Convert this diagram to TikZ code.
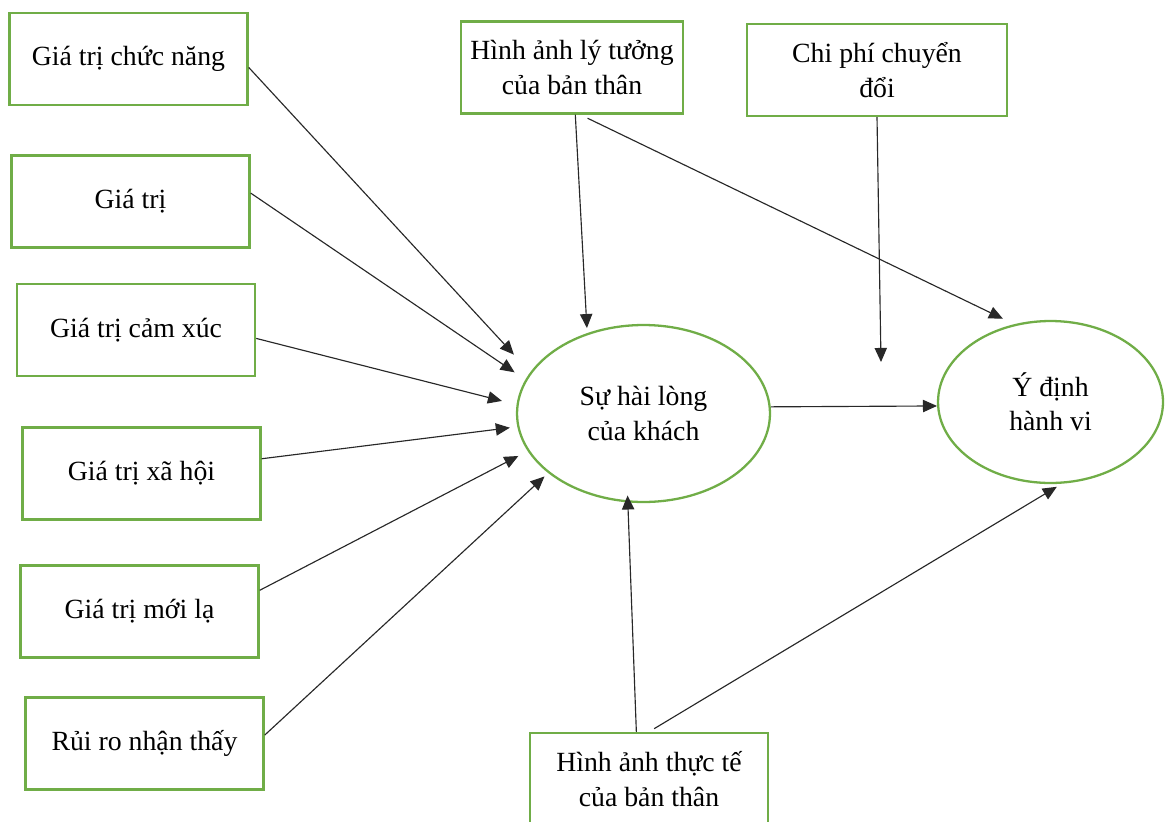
\documentclass[tikz,border=0pt]{standalone}
\usepackage{fontspec}
\setmainfont{Liberation Serif}
\usetikzlibrary{shapes.geometric}
\usetikzlibrary{arrows.meta}
\definecolor{vien}{RGB}{112,173,71}
\definecolor{muiten}{RGB}{40,40,40}

\begin{document}
\begin{tikzpicture}[x=0.02cm, y=-0.02cm, font=\fontsize{15.8}{19.5}\selectfont,
	hop/.style={draw=vien, line width=1.4pt, minimum width=4.76cm, minimum height=1.84cm, inner sep=0pt, align=center},
	vong/.style={draw=vien, line width=1.3pt, ellipse, inner sep=0pt, align=center},
	tac/.style={muiten, line width=0.65pt, -{Triangle[length=8pt,width=7pt]}},
]

\useasboundingbox (0,0) rectangle (1165,821);
\clip (0,0) rectangle (1165,821);

% Bien doc lap
\node[hop] (gtcn) at (128.5,59) {Giá trị chức năng};
\node[hop] (gt) at (130.5,201.5) {Giá trị};
\node[hop] (gtcx) at (136,330) {Giá trị cảm xúc};
\node[hop] (gtxh) at (141.5,473.5) {Giá trị xã hội};
\node[hop] (gtml) at (139.5,611.5) {Giá trị mới lạ};
\node[hop] (rr) at (144.5,743.5) {Rủi ro nhận thấy};

\node[hop, minimum width=4.44cm] (lt) at (572,67.5) {Hình ảnh lý tưởng\\của bản thân};
\node[hop, minimum width=5.2cm] (cp) at (877,70) {Chi phí chuyển\\đổi};
\node[hop] (tt) at (649,779) {Hình ảnh thực tế\\của bản thân};

% Bien phu thuoc
\node[vong, minimum width=5.06cm, minimum height=3.54cm] (hl) at (643.5,413.5) {Sự hài lòng\\của khách};
\node[vong, minimum width=4.5cm, minimum height=3.24cm] (yd) at (1050.5,402) {Ý định\\hành vi};

\coordinate (dd) at (881,362);

% Tac dong
\draw[tac, shorten >=0.48cm] (gtcn.-4) -- (hl.160);
\draw[tac, shorten >=0.26cm] (gt.4) -- (hl.164);
\draw[tac, shorten >=0.3cm] (gtcx.-4) -- (hl.176.5);
\draw[tac, shorten >=0.15cm] (gtxh.7) -- (hl.-174.3);
\draw[tac, shorten >=0.21cm] (gtml.10) -- (hl.-162.3);
\draw[tac, shorten >=0.1cm] (rr.4) -- (hl.-148.8);

\draw[tac, shorten >=0.1cm] (lt.-86) -- (hl.125);
\draw[tac, shorten <=0.16cm, shorten >=0.25cm] (lt.-80) -- (yd.115);
\draw[tac] (cp.south) -- (dd);
\draw[tac] (hl.3) -- (yd.182);

\draw[tac, shorten >=-0.14cm] (tt.105) -- (hl.-100);
\draw[tac, shorten <=0.12cm, shorten >=0.12cm] (tt.north) -- (yd.-82);

\end{tikzpicture}
\end{document}
